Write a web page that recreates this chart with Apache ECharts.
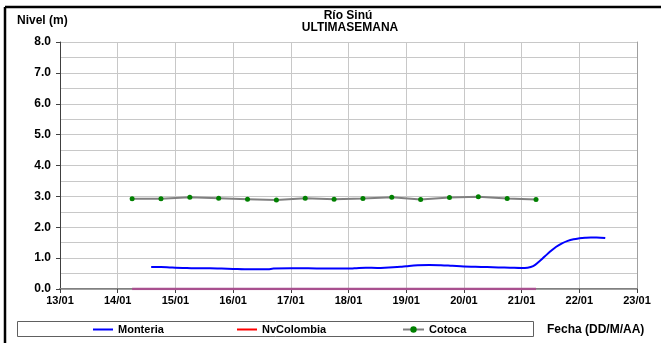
<!DOCTYPE html>
<html>
<head>
<meta charset="utf-8">
<script src="https://cdn.jsdelivr.net/npm/echarts@6/dist/echarts.min.js"></script>
<style>
  html, body { margin: 0; padding: 0; background: #fff; }
  #chart { width: 661px; height: 343px; }
</style>
</head>
<body>
<div id="chart"></div>
<script>
// days of January (decimal day = date + hour/24)
const monteriaDias = [14.58, 14.75, 14.9, 15.0, 15.2, 15.4, 15.6, 15.8, 16.0, 16.2, 16.4, 16.6, 16.7, 17.0, 17.3, 17.6, 17.9, 18.1, 18.3, 18.5, 18.7, 18.9, 19.0, 19.2, 19.4, 19.6, 19.8, 20.0, 20.2, 20.4, 20.6, 20.8, 21.0, 21.1, 21.2, 21.3, 21.4, 21.5, 21.6, 21.7, 21.8, 21.9, 22.0, 22.1, 22.2, 22.3, 22.45];
const monteriaNivel = [0.71, 0.71, 0.70, 0.69, 0.68, 0.67, 0.67, 0.66, 0.65, 0.64, 0.64, 0.64, 0.66, 0.67, 0.67, 0.66, 0.66, 0.67, 0.69, 0.68, 0.70, 0.72, 0.74, 0.77, 0.78, 0.77, 0.75, 0.73, 0.72, 0.71, 0.70, 0.69, 0.68, 0.69, 0.74, 0.88, 1.05, 1.22, 1.37, 1.48, 1.56, 1.61, 1.64, 1.66, 1.67, 1.67, 1.65];

const estacionDias = [14.25, 14.75, 15.25, 15.75, 16.25, 16.75, 17.25, 17.75, 18.25, 18.75, 19.25, 19.75, 20.25, 20.75, 21.25];
const nvColombiaNivel = [0, 0, 0, 0, 0, 0, 0, 0, 0, 0, 0, 0, 0, 0, 0];
const cotocaNivel = [2.92, 2.92, 2.97, 2.94, 2.91, 2.88, 2.94, 2.91, 2.93, 2.97, 2.90, 2.96, 2.99, 2.93, 2.90];

const fuente = 'Liberation Sans';
const pares = (xs, ys) => xs.map((x, i) => [x, ys[i]]);
const leyendaTexto = { fontFamily: fuente, fontWeight: 'bold', fontSize: 11, color: '#000' };
const titulo = { fontFamily: fuente, fontWeight: 'bold', fontSize: 12, fill: '#000', verticalAlign: 'middle' };

const chart = echarts.init(document.getElementById('chart'));
const option = {
  animation: false,
  grid: { left: 60, right: 24, top: 42, bottom: 54 },
  xAxis: [{
    type: 'value', min: 13, max: 23, interval: 1,
    axisLine: { show: true, onZero: false, lineStyle: { color: '#808080', width: 2 } },
    axisTick: { show: true, length: 4, lineStyle: { color: '#404040' } },
    axisLabel: {
      margin: 6, color: '#000', fontFamily: fuente, fontWeight: 'bold', fontSize: 11,
      formatter: v => String(v).padStart(2, '0') + '/01'
    },
    splitLine: { show: true, lineStyle: { color: '#c8c8c8', width: 1 } }
  }, {
    type: 'value', min: 13, max: 23, position: 'top',
    axisLine: { show: true, lineStyle: { color: '#a0a0a0', width: 1 } },
    axisTick: { show: false }, axisLabel: { show: false }, splitLine: { show: false }
  }],
  yAxis: [{
    type: 'value', min: 0, max: 8, interval: 1,
    axisLine: { show: true, lineStyle: { color: '#404040', width: 1 } },
    axisTick: { show: true, length: 4, lineStyle: { color: '#404040' } },
    axisLabel: {
      margin: 9, color: '#000', fontFamily: fuente, fontWeight: 'bold', fontSize: 12,
      formatter: v => v.toFixed(1)
    },
    splitLine: { show: true, lineStyle: { color: '#c8c8c8', width: 1 } },
    minorTick: { show: false, splitNumber: 2 },
    minorSplitLine: { show: true, lineStyle: { color: '#c8c8c8', width: 1 } }
  }, {
    type: 'value', min: 0, max: 8, position: 'right',
    axisLine: { show: true, lineStyle: { color: '#a0a0a0', width: 1 } },
    axisTick: { show: false }, axisLabel: { show: false }, splitLine: { show: false }
  }],
  legend: [
    { left: 93, top: 324, padding: 0, itemWidth: 20, itemHeight: 2, itemGap: 0, selectedMode: false,
      textStyle: leyendaTexto, data: [{ name: 'Monteria', icon: 'rect' }] },
    { left: 237, top: 324, padding: 0, itemWidth: 20, itemHeight: 2, itemGap: 0, selectedMode: false,
      textStyle: leyendaTexto, data: [{ name: 'NvColombia', icon: 'rect', itemStyle: { color: '#ff0000' } }] },
    { left: 402, top: 324, padding: 0, itemWidth: 21, itemHeight: 8, itemGap: 0, selectedMode: false,
      textStyle: leyendaTexto,
      data: [{ name: 'Cotoca', lineStyle: { color: '#808080' }, itemStyle: { color: '#008000' } }] }
  ],
  graphic: [
    { type: 'rect', shape: { x: 5, y: 7, width: 0, height: 336 }, style: { stroke: '#000', lineWidth: 2.5 } },
    { type: 'rect', shape: { x: 5, y: 7, width: 656, height: 0 }, style: { stroke: '#000', lineWidth: 2.5 } },
    { type: 'rect', shape: { x: 17.5, y: 321.5, width: 516, height: 15 }, style: { fill: 'none', stroke: '#606060', lineWidth: 1 } },
    { type: 'text', x: 17, y: 21, style: Object.assign({ text: 'Nivel (m)' }, titulo) },
    { type: 'text', x: 348, y: 16, style: Object.assign({ text: 'Río Sinú', align: 'center' }, titulo) },
    { type: 'text', x: 350, y: 28, style: Object.assign({ text: 'ULTIMASEMANA', align: 'center' }, titulo) },
    { type: 'text', x: 547, y: 330, style: Object.assign({ text: 'Fecha (DD/M/AA)' }, titulo) }
  ],
  series: [
    {
      name: 'Monteria', type: 'line', smooth: 0.4, symbol: 'none',
      color: '#0000ff', lineStyle: { color: '#0000ff', width: 2 },
      data: pares(monteriaDias, monteriaNivel)
    },
    {
      name: 'NvColombia', type: 'line', symbol: 'none',
      color: '#ff0000', lineStyle: { color: '#a8508f', width: 2.5 },
      data: pares(estacionDias, nvColombiaNivel), z: 3
    },
    {
      name: 'Cotoca', type: 'line', symbol: 'circle', symbolSize: 5,
      color: '#808080', lineStyle: { color: '#808080', width: 2 },
      itemStyle: { color: '#008000', borderWidth: 0 },
      data: pares(estacionDias, cotocaNivel)
    }
  ]
};
chart.setOption(option);
</script>
</body>
</html>
